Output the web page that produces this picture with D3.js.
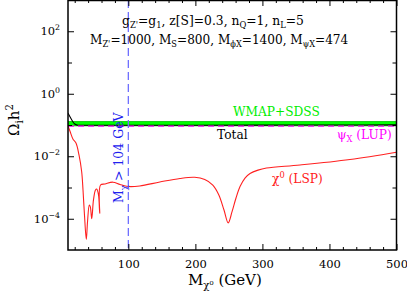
<!DOCTYPE html>
<html><head><meta charset="utf-8">
<script src="https://cdn.jsdelivr.net/npm/d3@7"></script>
<style>
html,body{margin:0;padding:0;background:#fff;}
svg{display:block;}
text{font-family:"DejaVu Serif",serif;}
</style></head>
<body>
<svg id="c" width="407" height="293"></svg>
<script>
// ---- data ----
const lspMass = [10,13,17.5,21.9,26.4,30.4,32.4,34.6,37.3,39.1,41.8,43.3,45.4,48,51,52.8,55.5,57.3,58.5,65.2,77,87.6,99.5,117,147,177,199,214,226,235,242.7,249,254.6,260.6,266.6,274,281.5,293.4,306,356,430.6,500];
const lspOmega = [0.093,0.063,0.035,0.0265,0.011,0.0032,8.3e-4,1.3e-4,2.2e-5,7.9e-5,2.75e-4,2.4e-4,1.0e-4,4.0e-4,8.3e-4,8.9e-4,5.8e-4,1.5e-4,1.2e-3,1.3e-3,1.48e-3,1.25e-3,1.08e-3,1.12e-3,1.5e-3,1.95e-3,2.12e-3,1.8e-3,1.2e-3,5.8e-4,1.9e-4,7.4e-5,1.65e-4,4.6e-4,1.07e-3,2.0e-3,2.8e-3,3.6e-3,4.2e-3,5.25e-3,7.9e-3,0.0135];
const totalMass = [10,12,14,17,20,25,30,60,100,200,300,400,500];
const totalOmega = [0.24,0.2,0.167,0.13,0.108,0.0986,0.098,0.098,0.098,0.098,0.099,0.1,0.101];
const lupMass = [10,500];
const lupOmega = [0.0916,0.0916];
const wmapRange = [0.094,0.129];
const massLimit = 100;
const xTicks = [100,200,300,400,500];
const xMinorTicks = [20,40,60,80,120,140,160,180,220,240,260,280,320,340,360,380,420,440,460,480];
const yTicks = [1e-4,1e-3,1e-2,1e-1,1,10,100];
const yLabelExp = [-4,-2,0,2];

// ---- layout ----
const svg = d3.select("#c");
const L=68, R=396.5, T=0, B=250;
const x = d3.scaleLinear([10,500],[L,R]);
const y = d3.scaleLog([1e-5,1e3],[B,T]);

function rich(sel, parts, size){
  let shift = 0;
  parts.forEach(p=>{
    const ts = sel.append("tspan").text(p.t);
    const want = p.sub ? size*0.28 : (p.sup ? -size*0.42 : 0);
    ts.attr("font-size", (p.sub||p.sup) ? size*0.68 : size).attr("dy", want - shift);
    shift = want;
  });
}

svg.append("clipPath").attr("id","clip").append("rect").attr("x",L).attr("y",T).attr("width",R-L).attr("height",B-T);
const g = svg.append("g").attr("clip-path","url(#clip)");

// WMAP band
g.append("rect").attr("x",L).attr("width",R-L)
 .attr("y",y(wmapRange[1])).attr("height",y(wmapRange[0])-y(wmapRange[1]))
 .attr("fill","#00ff00").attr("stroke","#00c800").attr("stroke-width",0.8);

const line = d3.line().x(d=>x(d[0])).y(d=>y(d[1])).curve(d3.curveMonotoneX);

// total
g.append("path").datum(totalMass.map((m,i)=>[m,totalOmega[i]]))
 .attr("d",line).attr("fill","none").attr("stroke","#000").attr("stroke-width",1.1);
// LUP
g.append("path").datum(lupMass.map((m,i)=>[m,lupOmega[i]]))
 .attr("d",line).attr("fill","none").attr("stroke","#ff00ff").attr("stroke-width",1.2).attr("stroke-dasharray","6,4");
// LSP
g.append("path").datum(lspMass.map((m,i)=>[m,lspOmega[i]]))
 .attr("d",d3.line().x(d=>x(d[0])).y(d=>y(d[1])).curve(d3.curveCatmullRom.alpha(0.5)))
 .attr("fill","none").attr("stroke","#ff2020").attr("stroke-width",1.1);

// mass limit line
g.append("line").attr("x1",x(massLimit)).attr("x2",x(massLimit)).attr("y1",T).attr("y2",B)
 .attr("stroke","#7070ff").attr("stroke-width",1.3).attr("stroke-dasharray","8,4");

// axes
function styleAxis(a){ a.select(".domain").remove(); a.selectAll("line").attr("stroke","#000").attr("stroke-width",1); }
const ax1 = svg.append("g").attr("transform",`translate(0,${B})`)
 .call(d3.axisBottom(x).tickValues(xTicks).tickSizeInner(-6).tickSizeOuter(0).tickPadding(10).tickFormat(d3.format("d")));
styleAxis(ax1);
ax1.selectAll("text").attr("font-size",11.5).attr("font-family","DejaVu Serif").attr("fill","#000");
const ax1m = svg.append("g").attr("transform",`translate(0,${B})`)
 .call(d3.axisBottom(x).tickValues(xMinorTicks).tickSizeInner(-3).tickSizeOuter(0).tickFormat(""));
styleAxis(ax1m);
const ax2 = svg.append("g").attr("transform",`translate(0,${T})`)
 .call(d3.axisTop(x).tickValues(xTicks).tickSizeInner(-6).tickSizeOuter(0).tickFormat(""));
styleAxis(ax2);
const ax2m = svg.append("g").attr("transform",`translate(0,${T})`)
 .call(d3.axisTop(x).tickValues(xMinorTicks).tickSizeInner(-3).tickSizeOuter(0).tickFormat(""));
styleAxis(ax2m);

const isLab = d=>yLabelExp.includes(Math.round(Math.log10(d)));
const ay1 = svg.append("g").attr("transform",`translate(${L},0)`)
 .call(d3.axisLeft(y).tickValues(yTicks).tickSizeOuter(0).tickFormat(""));
styleAxis(ay1);
ay1.selectAll(".tick line").attr("x2",d=>isLab(d)?6:4);
const ay2 = svg.append("g").attr("transform",`translate(${R},0)`)
 .call(d3.axisRight(y).tickValues(yTicks).tickSizeOuter(0).tickFormat(""));
styleAxis(ay2);
ay2.selectAll(".tick line").attr("x2",d=>isLab(d)?-6:-4);

// y tick labels
yTicks.filter(isLab).forEach(v=>{
  const e = Math.round(Math.log10(v));
  const t = svg.append("text").attr("x",L-8).attr("y",y(v)+4).attr("text-anchor","end").attr("fill","#000");
  rich(t,[{t:"10"},{t:(e<0?"\u2212":"")+Math.abs(e),sup:true}],11.5);
});

// frame
svg.append("rect").attr("x",L).attr("y",T+0.5).attr("width",R-L).attr("height",B-T-0.5)
 .attr("fill","none").attr("stroke","#000").attr("stroke-width",1.5);

// axis titles
const xt = svg.append("text").attr("x",188).attr("y",285).attr("fill","#000");
rich(xt,[{t:"M"},{t:"\u03c7\u2070",sub:true},{t:" (GeV)"}],15);
const yt = svg.append("text").attr("transform","translate(19,120) rotate(-90)").attr("text-anchor","middle").attr("fill","#000");
rich(yt,[{t:"\u03a9"},{t:"i",sub:true},{t:"h"},{t:"2",sup:true}],15);

// annotations
const t1 = svg.append("text").attr("x",122).attr("y",25).attr("fill","#000");
rich(t1,[{t:"g"},{t:"Z'",sub:true},{t:"=g"},{t:"1",sub:true},{t:",  z[S]=0.3,  n"},{t:"Q",sub:true},{t:"=1,  n"},{t:"L",sub:true},{t:"=5"}],12.3);
const t2 = svg.append("text").attr("x",90).attr("y",44).attr("fill","#000");
rich(t2,[{t:"M"},{t:"Z'",sub:true},{t:"=1000,  M"},{t:"S",sub:true},{t:"=800,  M"},{t:"\u03d5X",sub:true},{t:"=1400,  M"},{t:"\u03c8X",sub:true},{t:"=474"}],12.1);

svg.append("text").attr("x",233).attr("y",116).attr("fill","#00ee00").attr("font-size",12.2).text("WMAP+SDSS");
svg.append("text").attr("x",217).attr("y",139).attr("fill","#000").attr("font-size",12.2).text("Total");
const t3 = svg.append("text").attr("x",337).attr("y",139).attr("fill","#ff00ff");
rich(t3,[{t:"\u03c8"},{t:"X",sub:true},{t:" (LUP)"}],12.2);
const t4 = svg.append("text").attr("x",272).attr("y",183).attr("fill","#ff2020");
rich(t4,[{t:"\u03c7"},{t:"0",sup:true},{t:" (LSP)"}],12.2);
const t5 = svg.append("text").attr("transform","translate(123,203) rotate(-90)").attr("fill","#2020ee");
rich(t5,[{t:"M"},{t:"\u03c7",sub:true},{t:" > 104 GeV"}],12.5);
</script>
</body></html>
